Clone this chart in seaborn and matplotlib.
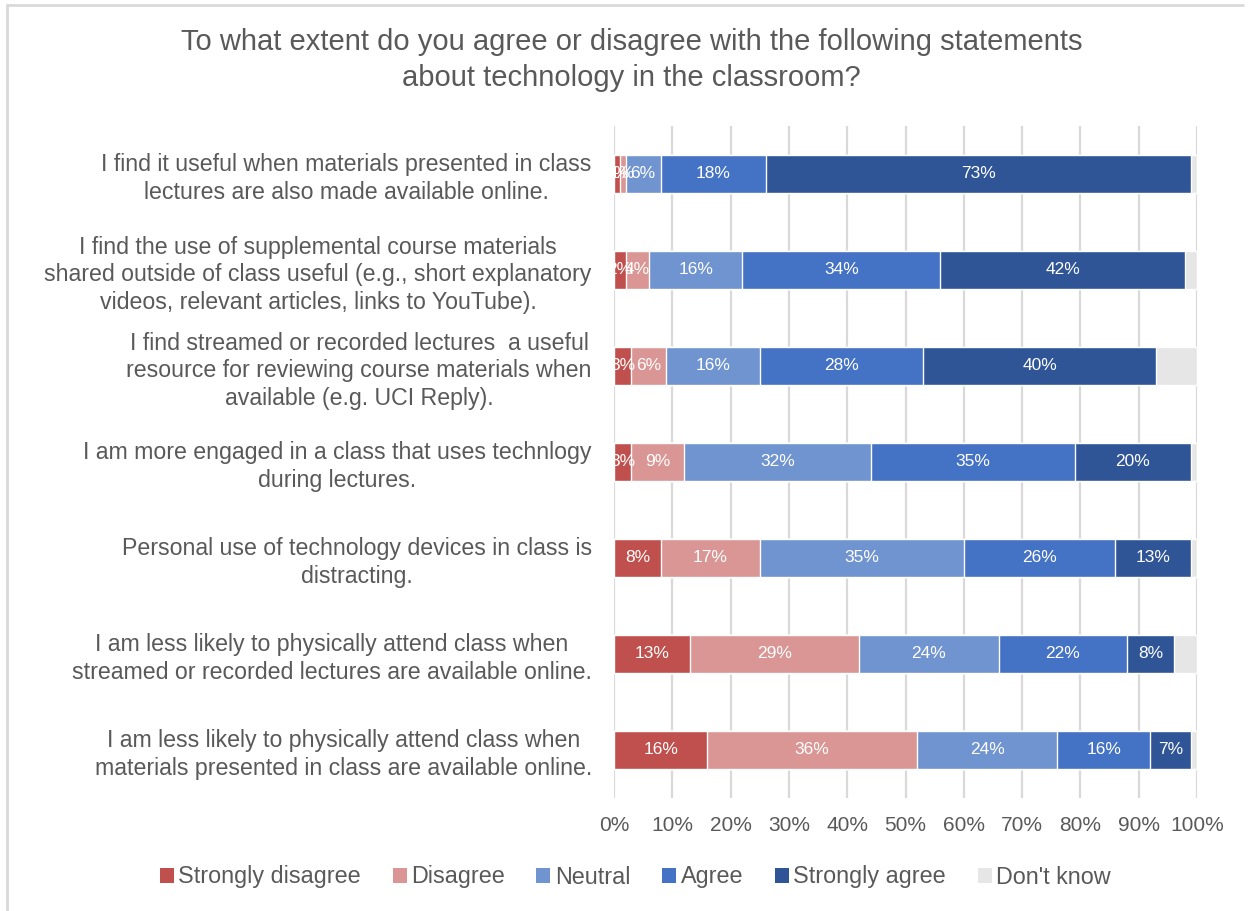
import matplotlib
matplotlib.use("Agg")
import matplotlib.pyplot as plt
from matplotlib.patches import Patch
from matplotlib.lines import Line2D
import seaborn as sns
import pandas as pd

# Survey statements (top to bottom)
statements = [
    "I find it useful when materials presented in class\nlectures are also made available online.",
    "I find the use of supplemental course materials\nshared outside of class useful (e.g., short explanatory\nvideos, relevant articles, links to YouTube).",
    "I find streamed or recorded lectures  a useful\nresource for reviewing course materials when\navailable (e.g. UCI Reply).",
    "I am more engaged in a class that uses technlogy\nduring lectures.",
    "Personal use of technology devices in class is\ndistracting.",
    "I am less likely to physically attend class when\nstreamed or recorded lectures are available online.",
    "I am less likely to physically attend class when\nmaterials presented in class are available online.",
]

responses = ["Strongly disagree", "Disagree", "Neutral", "Agree", "Strongly agree", "Don't know"]

# Percentage of respondents per answer, one value per statement
strongly_disagree = [1, 2, 3, 3, 8, 13, 16]
disagree = [1, 4, 6, 9, 17, 29, 36]
neutral = [6, 16, 16, 32, 35, 24, 24]
agree = [18, 34, 28, 35, 26, 22, 16]
strongly_agree = [73, 42, 40, 20, 13, 8, 7]
dont_know = [1, 2, 7, 1, 1, 4, 1]

x_ticks = [0, 10, 20, 30, 40, 50, 60, 70, 80, 90, 100]

colors = ["#C0504D", "#D99694", "#7094D0", "#4472C4", "#2F5597", "#E7E6E6"]
text_color = "#595959"
grid_color = "#D9D9D9"

sns.set_theme(style="white")
plt.rcParams["font.family"] = ["Liberation Sans", "DejaVu Sans"]

df = pd.DataFrame({
    "statement": statements,
    "Strongly disagree": strongly_disagree,
    "Disagree": disagree,
    "Neutral": neutral,
    "Agree": agree,
    "Strongly agree": strongly_agree,
    "Don't know": dont_know,
})
cum = df[responses].cumsum(axis=1)
cum["statement"] = statements

W, H = 1253, 911
fig = plt.figure(figsize=(W / 100, H / 100), dpi=100)
ax = fig.add_axes([614 / W, 1 - 798 / H, (1197 - 614) / W, 672 / H])
ax.set_axisbelow(True)

# Stacked bars: draw cumulative totals from the outermost segment inwards
for resp, color in reversed(list(zip(responses, colors))):
    sns.barplot(data=cum, x=resp, y="statement", color=color, width=0.4,
                saturation=1, orient="h", ax=ax, errorbar=None)

# Segment value labels
for i in range(len(statements)):
    for resp in responses[:-1]:
        v = df.loc[i, resp]
        center = cum.loc[i, resp] - v / 2
        ax.text(center, i, f"{v}%", ha="center", va="center",
                color="white", fontsize=12.5)

ax.set_xlim(0, 100)
ax.set_xticks(x_ticks)
ax.set_xticklabels([f"{t}%" for t in x_ticks], fontsize=15, color=text_color)
ax.xaxis.grid(True, color=grid_color, linewidth=1.6)
ax.yaxis.grid(False)
ax.set_xlabel("")
ax.set_ylabel("")
for s in ax.spines.values():
    s.set_visible(False)
ax.tick_params(axis="x", length=0, pad=13)
ax.tick_params(axis="y", length=0, pad=16)
for lbl in ax.get_yticklabels():
    lbl.set_fontsize(16.7)
    lbl.set_color(text_color)
    lbl.set_multialignment("center")
    lbl.set_linespacing(1.25)

fig.text(0.504, 1 - 60 / H,
         "To what extent do you agree or disagree with the following statements\nabout technology in the classroom?",
         ha="center", va="center", fontsize=21, color=text_color, linespacing=1.32)

handles = [Patch(facecolor=c, edgecolor="none") for c in colors]
fig.legend(handles, responses, loc="center", bbox_to_anchor=(0.507, 1 - 877 / H),
           ncol=6, frameon=False, handlelength=0.6, handleheight=0.6,
           handletextpad=0.2, columnspacing=1.35, prop={"size": 16.8},
           labelcolor=text_color)

# Chart frame
fig.add_artist(Line2D([7 / W, 7 / W], [0, 1 - 5 / H], transform=fig.transFigure,
                      color=grid_color, lw=2))
fig.add_artist(Line2D([7 / W, 1243 / W], [1 - 5 / H, 1 - 5 / H], transform=fig.transFigure,
                      color=grid_color, lw=2))

fig.savefig("out.png", dpi=100)
